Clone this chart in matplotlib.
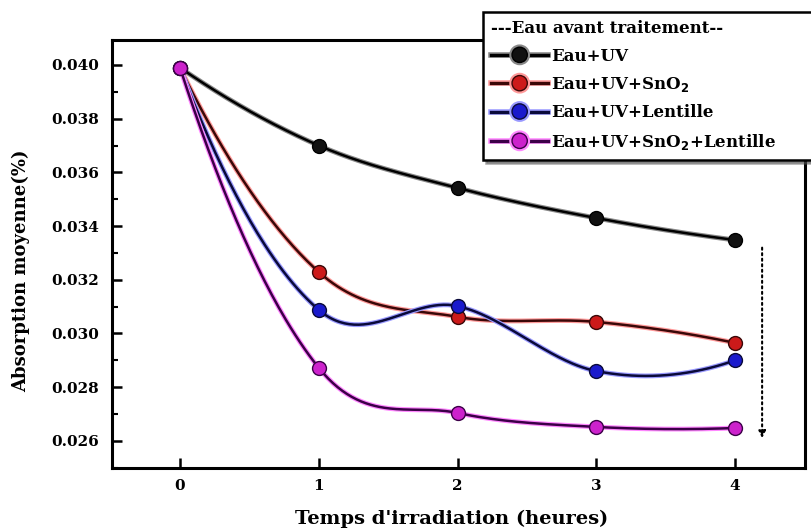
import numpy as np
import matplotlib
matplotlib.use('Agg')
import matplotlib.pyplot as plt
import matplotlib.patheffects as pe
from matplotlib.ticker import MultipleLocator, FormatStrFormatter

# irradiation time (hours)
temps = [0, 1, 2, 3, 4]

# mean absorption values
eau_uv = [0.0399, 0.0370, 0.03542, 0.0343, 0.03348]
eau_uv_sno2 = [0.0399, 0.03229, 0.03062, 0.03043, 0.02965]
eau_uv_lentille = [0.0399, 0.03088, 0.03102, 0.0286, 0.0290]
eau_uv_sno2_lentille = [0.0399, 0.02872, 0.02704, 0.02652, 0.02648]

labels = ['Eau+UV', 'Eau+UV+SnO$_2$', 'Eau+UV+Lentille', 'Eau+UV+SnO$_2$+Lentille']
series = [eau_uv, eau_uv_sno2, eau_uv_lentille, eau_uv_sno2_lentille]
marker_colors = ['#111111', '#cc1a1a', '#1a1acc', '#cc22cc']
line_colors = ['#000000', '#3a0808', '#0a0a3a', '#3c0048']
halo_colors = ['#888888', '#ff9a9a', '#9a9aff', '#ff88ff']

yticks = [0.026, 0.028, 0.030, 0.032, 0.034, 0.036, 0.038, 0.040]


def smooth(x, y, n=60):
    # cubic hermite curve through the points (catmull-rom tangents), for drawing only
    x = np.asarray(x, float)
    y = np.asarray(y, float)
    k = len(x)
    m = np.zeros(k)
    for i in range(1, k - 1):
        m[i] = (y[i + 1] - y[i - 1]) / (x[i + 1] - x[i - 1])
    m[0] = 2 * (y[1] - y[0]) / (x[1] - x[0]) - m[1]
    m[-1] = 2 * (y[-1] - y[-2]) / (x[-1] - x[-2]) - m[-2]
    xs, ys = [], []
    for i in range(k - 1):
        h = x[i + 1] - x[i]
        t = np.linspace(0, 1, n)
        h00 = 2 * t ** 3 - 3 * t ** 2 + 1
        h10 = t ** 3 - 2 * t ** 2 + t
        h01 = -2 * t ** 3 + 3 * t ** 2
        h11 = t ** 3 - t ** 2
        xs.append(x[i] + t * h)
        ys.append(h00 * y[i] + h10 * h * m[i] + h01 * y[i + 1] + h11 * h * m[i + 1])
    return np.concatenate(xs), np.concatenate(ys)


plt.rcParams['font.family'] = ['DejaVu Serif']
plt.rcParams['font.weight'] = 'bold'

fig = plt.figure(figsize=(8.11, 5.32), dpi=100)
ax = fig.add_axes([112 / 811, 1 - 468 / 532, 693 / 811, 428 / 532])

handles = []
for vals, lab, mc, lc, hc in zip(series, labels, marker_colors, line_colors, halo_colors):
    xs, ys = smooth(temps, vals)
    ax.plot(xs, ys, color=lc, lw=1.8,
            path_effects=[pe.Stroke(linewidth=3.5, foreground=hc), pe.Normal()])
    ax.plot(temps, vals, ls='none', marker='o', ms=10, mfc=mc, mec=lc, mew=1)
    h, = ax.plot([], [], color=lc, lw=2.4, marker='o', ms=11, mfc=mc, mec=lc,
                 path_effects=[pe.Stroke(linewidth=4, foreground=hc), pe.Normal()])
    handles.append(h)

# dotted arrow on the right
ax.annotate('', xy=(4.195, 0.02600), xytext=(4.195, 0.0333),
            arrowprops=dict(arrowstyle='-|>', ls=':', lw=1.5, color='black',
                            mutation_scale=10))

ax.set_xlim(-0.49, 4.504)
ax.set_ylim(0.02499, 0.04093)
ax.set_xticks(temps)
ax.set_yticks(yticks)
ax.yaxis.set_minor_locator(MultipleLocator(0.001))
ax.yaxis.set_major_formatter(FormatStrFormatter('%.3f'))
ax.tick_params(direction='in', width=1.8, labelsize=11)
ax.tick_params(axis='y', pad=9)
ax.tick_params(axis='x', pad=8)
ax.tick_params(which='major', length=7)
ax.tick_params(which='minor', direction='in', length=4, width=1.5)
for s in ax.spines.values():
    s.set_linewidth(2.2)

ax.set_xlabel("Temps d'irradiation (heures)", fontsize=14, fontweight='bold')
ax.set_ylabel('Absorption moyenne(%)', fontsize=13, fontweight='bold')
ax.xaxis.set_label_coords(0.49, -0.098)
ax.yaxis.set_label_coords(-0.118, 0.46)

leg = fig.legend(handles, labels, title='---Eau avant traitement--',
                 loc='upper left', bbox_to_anchor=(483 / 811, 1 - 12 / 532 - 0.25, 360 / 811, 0.25),
                 mode='expand', alignment='left', fontsize=12, title_fontsize=12,
                 handlelength=3.4, handletextpad=0.2, labelspacing=0.62,
                 borderaxespad=0, borderpad=0.5, fancybox=False, shadow=True,
                 framealpha=1, edgecolor='black')
leg.get_frame().set_linewidth(1.8)
leg.get_title().set_fontweight('bold')

fig.savefig('out.png', dpi=100)
